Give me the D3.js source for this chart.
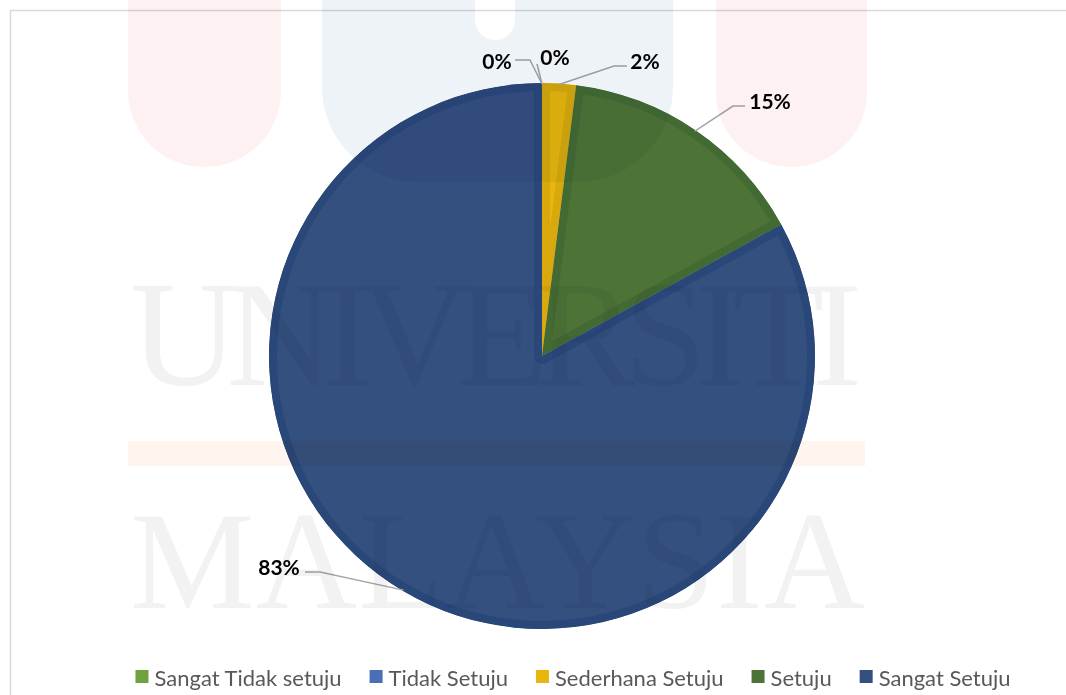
<!DOCTYPE html>
<html>
<head>
<meta charset="utf-8">
<script src="https://cdn.jsdelivr.net/npm/d3@7"></script>
<style>
  body { margin: 0; background: #fff; }
  svg { display: block; }
  .lbl { font-family: Lato, "Open Sans", sans-serif; font-weight: bold; font-size: 21px; fill: #000; }
  .leg { font-family: Lato, "Open Sans", sans-serif; font-size: 22px; fill: #595959; }
</style>
</head>
<body>
<div id="chart"></div>
<script>
// data
var categories = ["Sangat Tidak setuju", "Tidak Setuju", "Sederhana Setuju", "Setuju", "Sangat Setuju"];
var values = [0, 0, 2, 15, 83];
var colors = ["#6fa23f", "#4a6fb5", "#eab60e", "#4d7337", "#34507f"];
var edgeColors = ["#5a8a30", "#3b5c9a", "#d9a80d", "#436a33", "#2a477a"];

var width = 1066, height = 695;

var svg = d3.select("#chart").append("svg")
    .attr("width", width)
    .attr("height", height);

// chart frame
svg.append("rect")
    .attr("x", 10.5).attr("y", 10.5)
    .attr("width", width).attr("height", height)
    .attr("fill", "#fff")
    .attr("stroke", "#d9d9d9")
    .attr("stroke-width", 1.5);

// pie
var cx = 542, cy = 356, radius = 273;

var pie = d3.pie().sort(null).value(function (d) { return d; });
var arc = d3.arc().innerRadius(0).outerRadius(radius);
var arcs = pie(values);

var g = svg.append("g").attr("transform", "translate(" + cx + "," + cy + ")");
var defs = svg.append("defs");

arcs.forEach(function (a, i) {
    if (a.endAngle - a.startAngle <= 0) return;
    defs.append("clipPath").attr("id", "clip" + i)
        .append("path").attr("d", arc(a));
    var sg = g.append("g").attr("clip-path", "url(#clip" + i + ")");
    sg.append("path").attr("d", arc(a)).attr("fill", colors[i]);
    // darker inner edge, like the bevel in the original
    sg.append("path").attr("d", arc(a))
        .attr("fill", "none")
        .attr("stroke", edgeColors[i])
        .attr("stroke-width", 16)
        .attr("stroke-linejoin", "round");
});

// data labels with leader lines
var labelPos = [
    {x: 497, y: 60, elbow: [[515, 60], [530, 60]]},
    {x: 555, y: 56, elbow: [[537, 64]]},
    {x: 645, y: 60, elbow: [[627, 66], [614, 66]]},
    {x: 770, y: 100, elbow: [[745, 106], [733, 106]]},
    {x: 279, y: 566, elbow: [[305, 572], [320, 572]]}
];

var total = d3.sum(values);
var line = d3.line();

arcs.forEach(function (a, i) {
    var mid = (a.startAngle + a.endAngle) / 2;
    var r = radius - 1;
    var ax = cx + Math.sin(mid) * r, ay = cy - Math.cos(mid) * r;
    var p = labelPos[i];
    var pts = p.elbow.concat([[ax, ay]]);
    svg.append("path")
        .attr("d", line(pts))
        .attr("fill", "none")
        .attr("stroke", "#a6a6a6")
        .attr("stroke-width", 1.5);
    svg.append("text")
        .attr("class", "lbl")
        .attr("x", p.x).attr("y", p.y)
        .attr("text-anchor", "middle")
        .attr("dominant-baseline", "central")
        .text(Math.round(values[i] / total * 100) + "%");
});

// legend
var legend = svg.append("g");
var items = legend.selectAll("g").data(categories).enter().append("g");
items.append("rect")
    .attr("width", 13).attr("height", 13)
    .attr("y", -7)
    .attr("fill", function (d, i) { return colors[i]; });
items.append("text")
    .attr("class", "leg")
    .attr("x", 19)
    .attr("dominant-baseline", "central")
    .text(function (d) { return d; });

var xPos = 0, gap = 28;
var offsets = [];
items.each(function () {
    offsets.push(xPos);
    var w = d3.select(this).select("text").node().getComputedTextLength();
    xPos += 19 + w + gap;
});
var legW = xPos - gap;
var legX = 573 - legW / 2;
items.attr("transform", function (d, i) { return "translate(" + (legX + offsets[i]) + ",677)"; });

// faint university watermark over everything
var wm = svg.append("g").style("mix-blend-mode", "multiply").attr("pointer-events", "none");
wm.append("rect").attr("x", 128).attr("y", -200).attr("width", 153).attr("height", 367)
    .attr("rx", 76).attr("fill", "#fdf1f1");
wm.append("rect").attr("x", 716).attr("y", -200).attr("width", 151).attr("height", 367)
    .attr("rx", 75).attr("fill", "#fdf1f1");
wm.append("rect").attr("x", 322).attr("y", -200).attr("width", 351).attr("height", 382)
    .attr("rx", 95).attr("fill", "#eef3f8");
wm.append("rect").attr("x", 475).attr("y", -60).attr("width", 40).attr("height", 100)
    .attr("rx", 20).attr("fill", "#ffffff");
wm.append("rect").attr("x", 128).attr("y", 441).attr("width", 737).attr("height", 25)
    .attr("fill", "#fdf5ee");
wm.append("text")
    .attr("x", 130).attr("y", 385)
    .attr("textLength", 732).attr("lengthAdjust", "spacing")
    .style("font-family", "'Liberation Serif', 'DejaVu Serif', serif")
    .style("font-size", "150px")
    .attr("fill", "#f2f2f2")
    .text("UNIVERSITI");
wm.append("text")
    .attr("x", 130).attr("y", 608)
    .attr("textLength", 735).attr("lengthAdjust", "spacing")
    .style("font-family", "'Liberation Serif', 'DejaVu Serif', serif")
    .style("font-size", "140px")
    .attr("fill", "#f2f2f2")
    .text("MALAYSIA");
</script>
</body>
</html>
